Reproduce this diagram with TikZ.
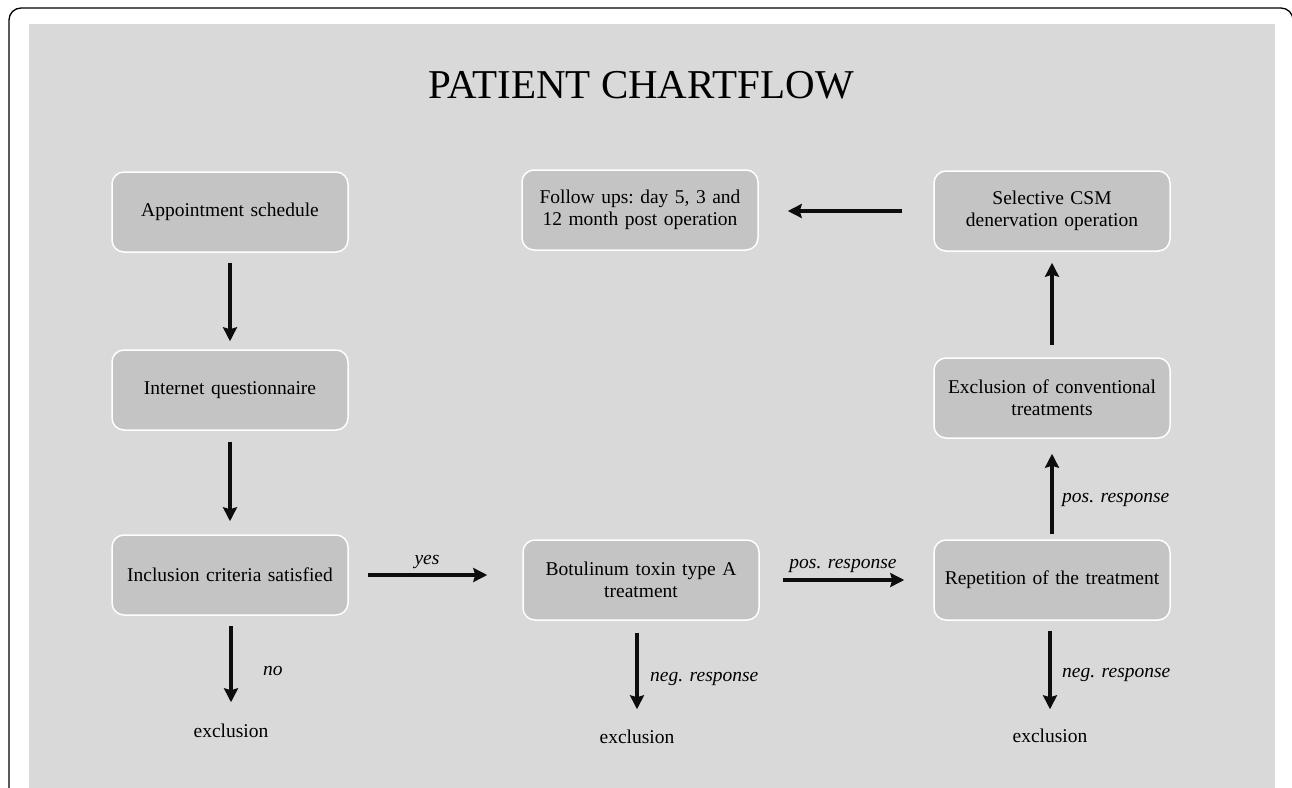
\documentclass[tikz,border=0pt]{standalone}
\usepackage{fontspec}
\setmainfont{Liberation Serif}
\usetikzlibrary{arrows.meta}
\definecolor{panelGray}{HTML}{D9D9D9}
\definecolor{boxGray}{HTML}{C4C4C4}
\definecolor{mainBlack}{gray}{0.05}

\begin{document}
\begin{tikzpicture}[x=1pt, y=-1pt,
    box/.style={draw=white, line width=1.5pt, fill=boxGray, rounded corners=12pt,
        minimum width=236pt, minimum height=80pt, text width=230pt, align=center,
        inner sep=0pt, font=\fontsize{19.5}{22}\selectfont\frenchspacing},
    flow/.style={-{Stealth[length=14pt, width=14pt, inset=2pt]}, line width=3.8pt, mainBlack},
    resp/.style={inner sep=0pt, font=\fontsize{19.5}{21}\selectfont\itshape},
    outcome/.style={inner sep=0pt, font=\fontsize{19.5}{22}\selectfont}]
    % Frame and panel
    \useasboundingbox (0,0) rectangle (1292,787);
    \draw[line width=1.3pt, rounded corners=12pt] (9,800) -- (9,8) -- (1293,8) -- (1293,800);
    \fill[panelGray] (29,24) rectangle (1275,790);
    \node[anchor=base, inner sep=0pt, font=\fontsize{41}{44}\selectfont] (title) at (641,98) {PATIENT CHARTFLOW};

    % Steps
    \node[box] (appt) at (230,212) {Appointment schedule};
    \node[box] (quest) at (230,390) {Internet questionnaire};
    \node[box] (incl) at (230,575) {Inclusion criteria satisfied};
    \node[box] (botox) at (641,580) {Botulinum toxin type A\\treatment};
    \node[box] (rep) at (1052,580) {Repetition of the treatment};
    \node[box] (conv) at (1052,398) {Exclusion of conventional\\treatments};
    \node[box] (csm) at (1052,211) {Selective CSM\\denervation operation};
    \node[box] (follow) at (640,210) {Follow ups: day 5, 3 and\\12 month post operation};

    % Exclusions
    \node[outcome, anchor=base] (exclA) at (231,737) {exclusion};
    \node[outcome, anchor=base] (exclB) at (637,743) {exclusion};
    \node[outcome, anchor=base] (exclC) at (1050,742) {exclusion};

    % Arrows
    \draw[flow, shorten <=10pt, shorten >=8pt] (appt) -- (quest);
    \draw[flow, shorten <=11pt, shorten >=13pt] (quest) -- (incl);
    \draw[flow, shorten <=10pt, shorten >=21pt] (incl.south -| exclA.north) -- (exclA.north);
    \draw[flow, shorten <=19pt, shorten >=35pt] (incl.east) -- (incl.east -| botox.west);
    \draw[flow, shorten <=12pt, shorten >=20pt] (botox.south -| exclB.north) -- (exclB.north);
    \draw[flow, shorten <=23pt, shorten >=29pt] (botox.east) -- (rep.west);
    \draw[flow, shorten <=10pt, shorten >=19pt] (rep.south -| exclC.north) -- (exclC.north);
    \draw[flow, shorten <=5pt, shorten >=15pt] (rep) -- (conv);
    \draw[flow, shorten <=12pt, shorten >=11pt] (conv) -- (csm);
    \draw[flow, shorten <=31pt, shorten >=29pt] (csm.west) -- (csm.west -| follow.east);

    % Labels
    \node[resp, anchor=base] (yesLbl) at (427,564) {yes};
    \node[resp, anchor=base west] (noLbl) at (263,675) {no};
    \node[resp, anchor=base] (posLblA) at (843,568) {pos. response};
    \node[resp, anchor=base west] (negLblA) at (650,681) {neg. response};
    \node[resp, anchor=base west] (posLblB) at (1062,502) {pos. response};
    \node[resp, anchor=base west] (negLblB) at (1062,677) {neg. response};
\end{tikzpicture}
\end{document}
